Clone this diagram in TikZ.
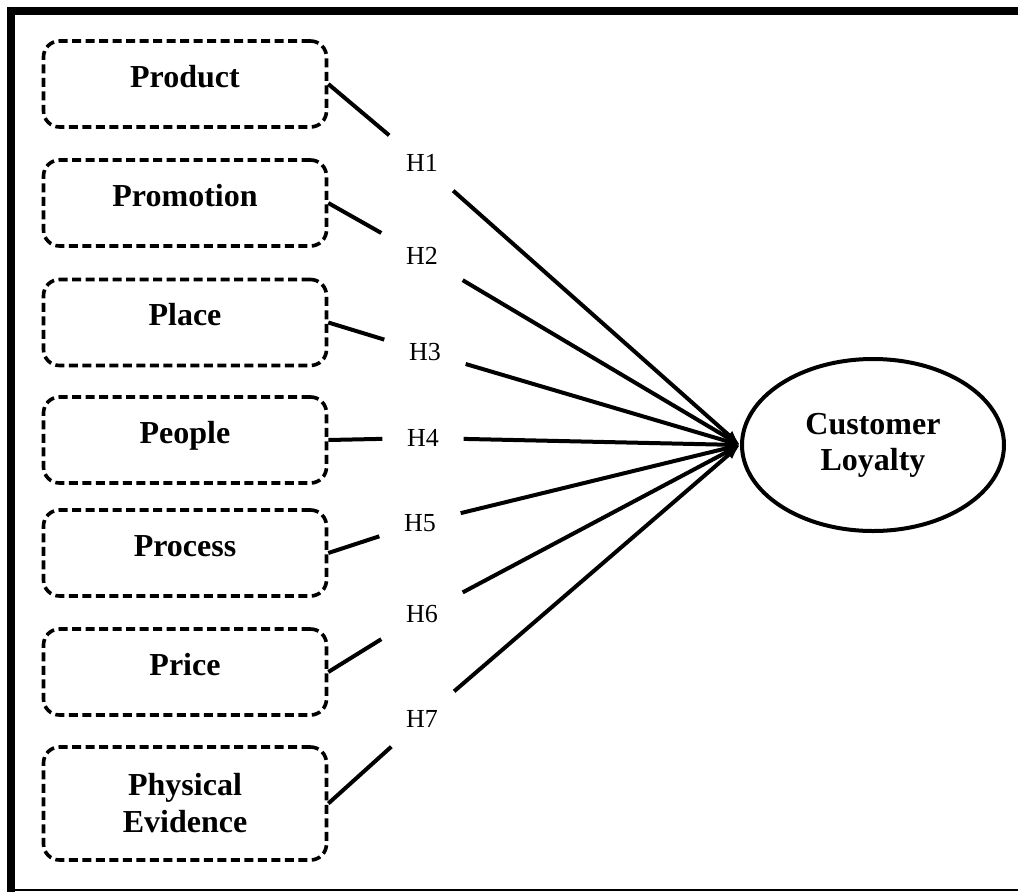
\documentclass[tikz,border=0pt]{standalone}
\usepackage{fontspec}
\setmainfont{Liberation Serif}
\usetikzlibrary{arrows.meta,shapes.geometric}
\tikzset{
  factor/.style={draw, line width=3.6pt, dash pattern=on 9pt off 4.5pt,
    rounded corners=16pt, minimum width=283pt, minimum height=86pt,
    inner sep=0pt, font=\fontsize{32}{37}\selectfont\bfseries,
    text height=20pt, text depth=14pt, align=center},
  hyp/.style={minimum width=81pt, minimum height=55pt, inner sep=0pt,
    font=\fontsize{26}{30}\selectfont},
  link/.style={line width=4pt, -{Latex[length=15pt,width=11pt]}},
  frameline/.style={line width=8pt, line join=miter},
}
\begin{document}
\begin{tikzpicture}[x=1pt,y=-1pt]
\useasboundingbox (0,0) rectangle (1018,892);
% frame
\coordinate (fbl) at (11,900);
\coordinate (ftl) at (11,11);
\coordinate (ftr) at (1030,11);
\coordinate (bl) at (7,890);
\coordinate (br) at (1030,890);
\draw[frameline] (fbl) -- (ftl) -- (ftr);
\draw[line width=2pt] (bl) -- (br);
% factor boxes
\node[factor] (p1) at (185,84) {Product};
\node[factor] (p2) at (185,203) {Promotion};
\node[factor] (p3) at (185,322.5) {Place};
\node[factor] (p4) at (185,440) {People};
\node[factor] (p5) at (185,553) {Process};
\node[factor] (p6) at (185,672) {Price};
\node[factor, minimum height=113pt, text height=, text depth=] (p7) at (185,803.5) {Physical\\Evidence};
% outcome
\node[ellipse, draw, line width=4pt, minimum width=262pt, minimum height=172pt,
  inner sep=0pt, align=center, font=\fontsize{32}{36}\selectfont\bfseries] (cl) at (873,445) {Customer\\Loyalty};
% hypothesis labels
\node[hyp] (h1) at (422,163) {H1};
\node[hyp] (h2) at (422,256) {H2};
\node[hyp] (h3) at (425,352) {H3};
\node[hyp] (h4) at (423,438) {H4};
\node[hyp] (h5) at (420,523) {H5};
\node[hyp] (h6) at (422,614) {H6};
\node[hyp] (h7) at (422,719) {H7};
% connectors
\foreach \i in {1,...,7}{
  \draw[link] (p\i.east) -- (h\i) -- (cl.west);
}
\end{tikzpicture}
\end{document}
